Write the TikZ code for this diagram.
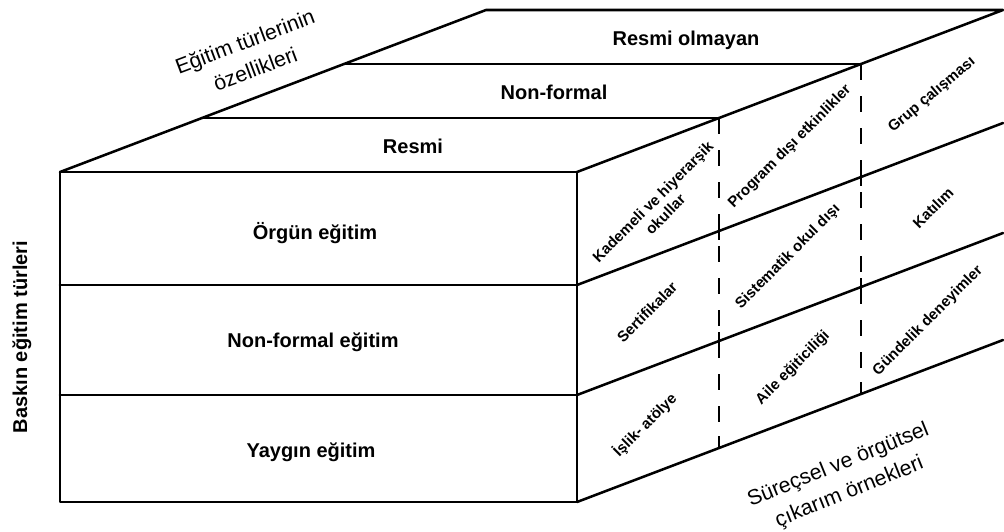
\documentclass[tikz,border=0pt]{standalone}
\usepackage{fontspec}
\setmainfont{Liberation Sans}
\begin{document}
\begin{tikzpicture}[x=0.75pt,y=-0.75pt,line join=round,line cap=round,
  edge/.style={line width=1.9pt},
  dashedge/.style={line width=2.1pt,line cap=butt,dash pattern=on 12pt off 12pt},
  tick/.style={line width=2.1pt,line cap=butt},
  cell/.style={font=\bfseries\fontsize{15}{17}\selectfont,align=center,inner sep=0pt},
  facetext/.style={font=\bfseries\fontsize{11.3}{13.3}\selectfont,align=center,inner sep=0pt,rotate=45},
  axis/.style={font=\fontsize{16}{22}\selectfont,align=center,inner sep=0pt}]
\useasboundingbox (0,0) rectangle (1004,532);
% front face
\coordinate (F1) at (60,172);
\coordinate (F2) at (577,172);
\coordinate (F3) at (577,502);
\coordinate (F4) at (60,502);
\coordinate (Fa1) at (60,285);
\coordinate (Fa2) at (577,285);
\coordinate (Fb1) at (60,395);
\coordinate (Fb2) at (577,395);
% back corners
\coordinate (B1) at (486,10);
\coordinate (B2) at (1003,10);
% top face dividers
\coordinate (T1a) at (202,118);
\coordinate (T1b) at (719,118);
\coordinate (T2a) at (344,64);
\coordinate (T2b) at (861,64);
% right face
\coordinate (Ra) at (1003,123);
\coordinate (Rb) at (1003,233);
\coordinate (Rc) at (1003,340);
\coordinate (D1) at (719,448);
\coordinate (D2) at (861,394);

\draw[edge] (F1) -- (F2) -- (F3) -- (F4) -- cycle;
\draw[edge] (Fa1) -- (Fa2);
\draw[edge] (Fb1) -- (Fb2);
\draw[edge] (F1) -- (B1) -- (B2) -- (F2);
\draw[edge] (T1a) -- (T1b);
\draw[edge] (T2a) -- (T2b);
\draw[edge] (Fa2) -- (Ra);
\draw[edge] (Fb2) -- (Rb);
\draw[edge] (F3) -- (Rc);
\draw[dashedge] (T1b) -- (D1);
\draw[dashedge] (T2b) -- (D2);
% solid crossings of the dashed lines
\foreach \x/\y in {719/231,719/341,861/177,861/287}{
  \draw[tick] (\x,\y-9) -- (\x,\y+9);
}
\draw[tick] (T1b) -- ++(0,12);
\draw[tick] (T2b) -- ++(0,12);
\draw[tick] (D1) -- ++(0,-12);
\draw[tick] (D2) -- ++(0,-12);

% top face labels
\node[cell] (resmi) at (413,146) {Resmi};
\node[cell] (nonf) at (554,92) {Non-formal};
\node[cell] (resmio) at (686,40) {Resmi olmayan};
% front labels
\node[cell] (orgun) at (315,233) {Örgün eğitim};
\node[cell] (nonfe) at (313,342) {Non-formal eğitim};
\node[cell] (yaygin) at (311,452) {Yaygın eğitim};
% axis labels
\node[axis,rotate=90,font=\bfseries\fontsize{15}{18}\selectfont] (bask) at (22,337) {Baskın eğitim türleri};
\node[axis,rotate=20.6] (ozel) at (250,55) {Eğitim türlerinin\\özellikleri};
\node[axis,rotate=22] (surec) at (844,479) {Süreçsel ve örgütsel\\çıkarım örnekleri};
% right face labels
\node[facetext] (kad) at (659,208) {Kademeli ve hiyerarşik\\okullar};
\node[facetext] (prog) at (790,147) {Program dışı etkinlikler};
\node[facetext,rotate=-5] (grup) at (932,95) {Grup çalışması};
\node[facetext] (sert) at (647,312) {Sertifikalar};
\node[facetext] (sist) at (788,257) {Sistematik okul dışı};
\node[facetext] (kat) at (933,208) {Katılım};
\node[facetext] (islik) at (645,425) {İşlik- atölye};
\node[facetext] (aile) at (793,368) {Aile eğiticiliği};
\node[facetext] (gund) at (928,321) {Gündelik deneyimler};
\end{tikzpicture}
\end{document}
